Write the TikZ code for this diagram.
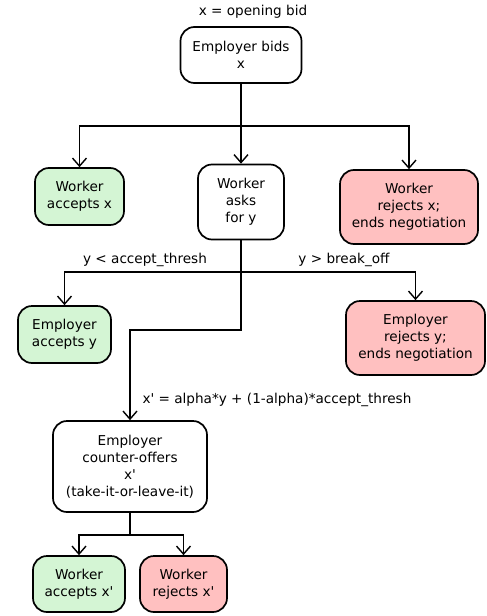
\documentclass[tikz,border=0pt]{standalone}
\usepackage{fontspec}
\setmainfont{DejaVu Sans}
\usetikzlibrary{arrows.meta}
\definecolor{acceptgreen}{RGB}{212,245,212}
\definecolor{rejectred}{RGB}{255,192,192}
\tikzset{
  state/.style={draw, line width=1.7pt, rounded corners=14pt, align=center,
    font=\fontsize{13.6}{17}\selectfont, inner sep=2pt},
  accept/.style={state, fill=acceptgreen},
  reject/.style={state, fill=rejectred},
  flow/.style={line width=1.7pt, -{Straight Barb[length=8pt,width=14pt,line width=1.4pt]}},
  cond/.style={font=\fontsize{13.6}{16}\selectfont},
}
\begin{document}
\begin{tikzpicture}[x=1pt, y=-1pt]
    \useasboundingbox (0,0) rectangle (487,616);
    % nodes
    \node[cond] (opening) at (253,12) {x = opening bid};
    \node[state, minimum width=121, minimum height=56] (bids) at (241,55) {Employer bids\\x};
    \node[accept, minimum width=89, minimum height=57] (acceptx) at (79.5,196.5) {Worker\\accepts x};
    \node[state, minimum width=86, minimum height=75] (asks) at (241,202) {Worker\\asks\\for y};
    \node[reject, minimum width=138, minimum height=74] (rejectx) at (409,207) {Worker\\rejects x;\\ends negotiation};
    \node[accept, minimum width=93, minimum height=57] (accepty) at (64.5,334.5) {Employer\\accepts y};
    \node[reject, minimum width=139, minimum height=74] (rejecty) at (415.5,338) {Employer\\rejects y;\\ends negotiation};
    \node[state, minimum width=154, minimum height=91] (counter) at (130,466.5)
        {Employer\\counter-offers\\x\textquotesingle\\(take-it-or-leave-it)};
    \node[accept, minimum width=92, minimum height=56] (acceptxp) at (79,584) {Worker\\accepts x\textquotesingle};
    \node[reject, minimum width=87, minimum height=56] (rejectxp) at (183.5,584) {Worker\\rejects x\textquotesingle};
    % branch points
    \coordinate (split1) at (241,126);
    \coordinate (split2) at (241,272);
    \coordinate (bend) at (241,330);
    \coordinate (split3) at (130,535);
    % connectors
    \draw[line width=1.7pt] (bids.south) -- (split1);
    \draw[flow] (split1) -| (acceptx.north);
    \draw[flow] (split1) -- (split1 |- asks.north);
    \draw[flow] (split1) -| (rejectx.north);
    \draw[line width=1.7pt] (asks.south -| split2) -- (split2);
    \draw[flow] (split2) -| (accepty.north);
    \draw[flow] (split2) -| (rejecty.north);
    \draw[flow] (split2) -- (bend) -| (counter.north);
    \draw[line width=1.7pt] (counter.south) -- (split3);
    \draw[flow] (split3) -| (acceptxp.north);
    \draw[flow] (split3) -| (rejectxp.north);
    % conditions
    \node[cond] (lowask) at (145,260) {y < accept\_thresh};
    \node[cond] (highask) at (344,260) {y > break\_off};
    \node[cond, anchor=west] (formula) at (139,400) {x\textquotesingle{} = alpha*y + (1-alpha)*accept\_thresh};
\end{tikzpicture}
\end{document}
